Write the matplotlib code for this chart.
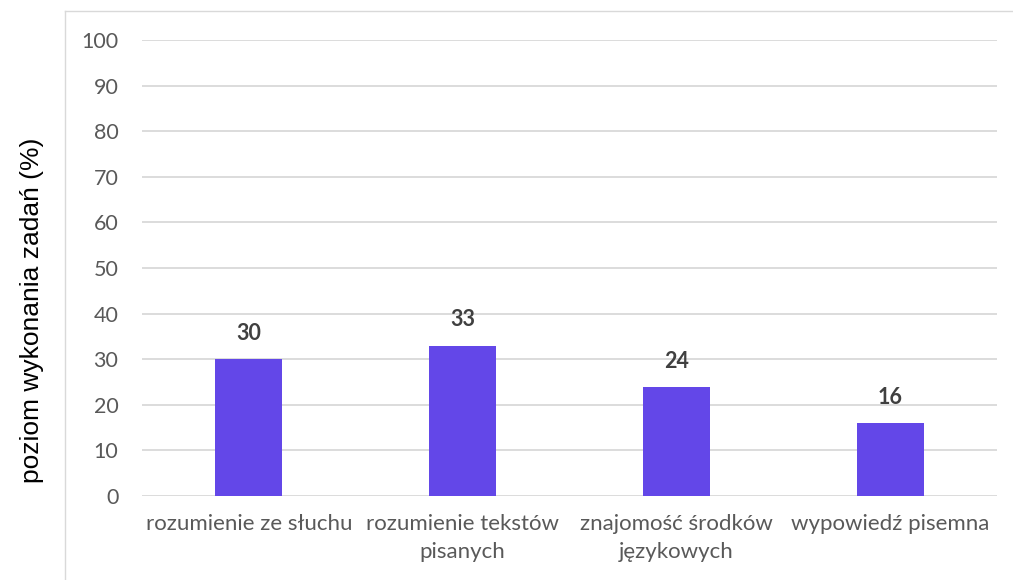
import matplotlib.pyplot as plt
from matplotlib.lines import Line2D

categories = ['rozumienie ze słuchu', 'rozumienie tekstów\npisanych',
              'znajomość środków\njęzykowych', 'wypowiedź pisemna']
values = [30, 33, 24, 16]
yticks = [0, 10, 20, 30, 40, 50, 60, 70, 80, 90, 100]

plt.rcParams['font.family'] = ['Lato', 'DejaVu Sans']

fig = plt.figure(figsize=(10.13, 5.8), dpi=100)
ax = fig.add_axes([142 / 1013, 1 - 496 / 580, (997 - 142) / 1013, (496 - 40) / 580])

x = range(len(categories))
ax.bar(x, values, width=0.313, color='#6347E8', zorder=3)
for i, v in zip(x, values):
    ax.text(i, v + 3.3, str(v), ha='center', va='bottom', fontsize=15.5,
            fontweight='bold', color='#404040')

ax.set_xlim(-0.5, len(categories) - 0.5)
ax.set_ylim(0, 100)
ax.set_yticks(yticks)
ax.set_xticks(list(x))
ax.set_xticklabels(categories, fontsize=16, color='#595959', linespacing=1.5)
ax.tick_params(axis='y', labelsize=15.5, labelcolor='#595959', length=0, pad=17)
ax.tick_params(axis='x', length=0, pad=13)
ax.grid(axis='y', color='#d9d9d9', linewidth=1.3, zorder=0)
for s in ax.spines.values():
    s.set_visible(False)

fig.text(32 / 1013, 1 - 310 / 580, 'poziom wykonania zadań (%)', rotation=90,
         ha='center', va='center', fontsize=19, family=['Liberation Sans', 'DejaVu Sans'])

# outer chart border (top and left visible)
fig.add_artist(Line2D([65 / 1013, 1.0], [1 - 11 / 580, 1 - 11 / 580],
                      transform=fig.transFigure, color='#d9d9d9', linewidth=1))
fig.add_artist(Line2D([65 / 1013, 65 / 1013], [0, 1 - 11 / 580],
                      transform=fig.transFigure, color='#d9d9d9', linewidth=1))

fig.savefig('out.png', dpi=100)
